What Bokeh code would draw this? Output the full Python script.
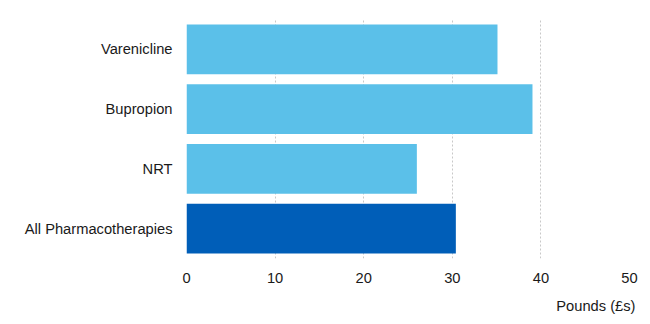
from bokeh.plotting import figure
from bokeh.models import ColumnDataSource, Title
from bokeh.embed import file_html
from bokeh.resources import INLINE

categories = ["Varenicline", "Bupropion", "NRT", "All Pharmacotherapies"]
values = [35.1, 39.05, 26.0, 30.4]
colors = ["#5bc0e9", "#5bc0e9", "#5bc0e9", "#005eb8"]
x_ticks = [0, 10, 20, 30, 40, 50]
x_label = "Pounds (£s)"

src = ColumnDataSource(dict(cat=categories, val=values, color=colors))

p = figure(width=650, height=324, y_range=list(reversed(categories)), x_range=(0, 50),
           output_backend="svg", toolbar_location=None,
           min_border_left=186, min_border_right=21, min_border_top=19, min_border_bottom=65)
p.y_range.range_padding = 0
p.hbar(y="cat", right="val", left=0, height=0.833, color="color", source=src, line_color=None)

p.outline_line_color = None
p.ygrid.grid_line_color = None
p.xgrid.grid_line_color = "#c8c8c8"
p.xgrid.grid_line_dash = "2 2"
p.xaxis.ticker = x_ticks

for ax in (p.xaxis, p.yaxis):
    ax.axis_line_color = None
    ax.major_tick_line_color = None
    ax.minor_tick_line_color = None
    ax.major_label_text_font = "Liberation Sans"
    ax.major_label_text_font_size = "14.7px"
    ax.major_label_text_color = "#1a1a1a"
p.xaxis.major_label_standoff = 8
p.yaxis.major_label_standoff = 8

t = Title(text=x_label, align="right", text_font="Liberation Sans", text_font_size="14.7px",
          text_font_style="normal", text_color="#1a1a1a", offset=-6, standoff=21)
p.add_layout(t, "below")

open("out.html", "w").write(file_html(p, INLINE))
